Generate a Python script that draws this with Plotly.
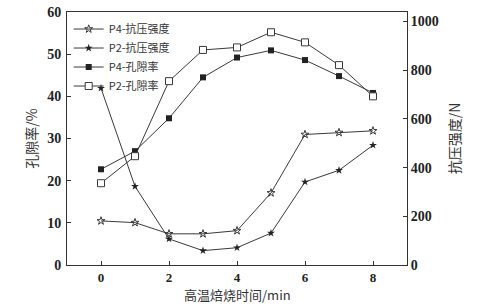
import plotly.graph_objects as go

x = [0, 1, 2, 3, 4, 5, 6, 7, 8]
p4_strength = [181, 174, 128, 128, 141, 296, 536, 544, 551]
p2_strength = [726, 323, 107, 59, 71, 131, 341, 389, 492]
p4_porosity = [22.7, 27.0, 34.8, 44.5, 49.2, 50.9, 48.6, 44.8, 40.8]
p2_porosity = [19.4, 25.8, 43.6, 51.0, 51.6, 55.2, 52.8, 47.4, 40.0]

names = ["P4-抗压强度", "P2-抗压强度", "P4-孔隙率", "P2-孔隙率"]
x_ticks = [0, 2, 4, 6, 8]
y1_ticks = [0, 10, 20, 30, 40, 50, 60]
y2_ticks = [0, 200, 400, 600, 800, 1000]
x_title = "高温焙烧时间/min"

LINE = "#3a3a3a"
CJK = "Noto Sans CJK SC"
NUM = "Liberation Serif"

fig = go.Figure()
fig.add_trace(go.Scatter(x=x, y=p4_strength, name=names[0], yaxis="y2", mode="lines+markers",
                         line=dict(color=LINE, width=1),
                         marker=dict(symbol="star-open", size=6, color=LINE, line=dict(width=1, color=LINE))))
fig.add_trace(go.Scatter(x=x, y=p2_strength, name=names[1], yaxis="y2", mode="lines+markers",
                         line=dict(color=LINE, width=1),
                         marker=dict(symbol="star", size=6, color="#222", line=dict(width=0))))
fig.add_trace(go.Scatter(x=x, y=p4_porosity, name=names[2], mode="lines+markers",
                         line=dict(color=LINE, width=1),
                         marker=dict(symbol="square", size=6, color="#222", line=dict(width=0))))
fig.add_trace(go.Scatter(x=x, y=p2_porosity, name=names[3], mode="lines+markers",
                         line=dict(color=LINE, width=1),
                         marker=dict(symbol="square", size=7, color="white", line=dict(width=1, color=LINE))))

axis_common = dict(showgrid=False, zeroline=False, showline=True, linecolor="#333", linewidth=1,
                   ticks="inside", ticklen=4, tickcolor="#333", automargin=False)
num_font = dict(family=NUM, size=14, color="#222", weight="bold")

fig.update_layout(
    width=492, height=305,
    margin=dict(l=67, r=85, t=12, b=40),
    paper_bgcolor="white", plot_bgcolor="white",
    showlegend=True,
    legend=dict(x=0.005, y=0.99, xanchor="left", yanchor="top", bgcolor="rgba(0,0,0,0)",
                font=dict(family=CJK, size=11, color="#333"), tracegroupgap=0, itemwidth=30),
    xaxis=dict(range=[-1, 9], tickvals=x_ticks, mirror=True, ticklabelstandoff=0,
               tickfont=dict(num_font, size=13), **axis_common),
    yaxis=dict(range=[0, 60], tickvals=y1_ticks, ticklabelstandoff=2, tickfont=num_font,
               title=dict(text="孔隙率/%", font=dict(family=CJK, size=14, color="#333"), standoff=6),
               **axis_common),
    yaxis2=dict(range=[0, 1039], tickvals=y2_ticks, overlaying="y", side="right", tickfont=num_font,
                title=dict(text="抗压强度/N", font=dict(family=CJK, size=14, color="#333"), standoff=12),
                **axis_common),
    annotations=[dict(text=x_title, xref="paper", yref="paper", x=0.5, y=0, xanchor="center",
                      yanchor="top", yshift=-18, showarrow=False,
                      font=dict(family=CJK, size=13, color="#333"))],
)

fig.write_html("out.html")
